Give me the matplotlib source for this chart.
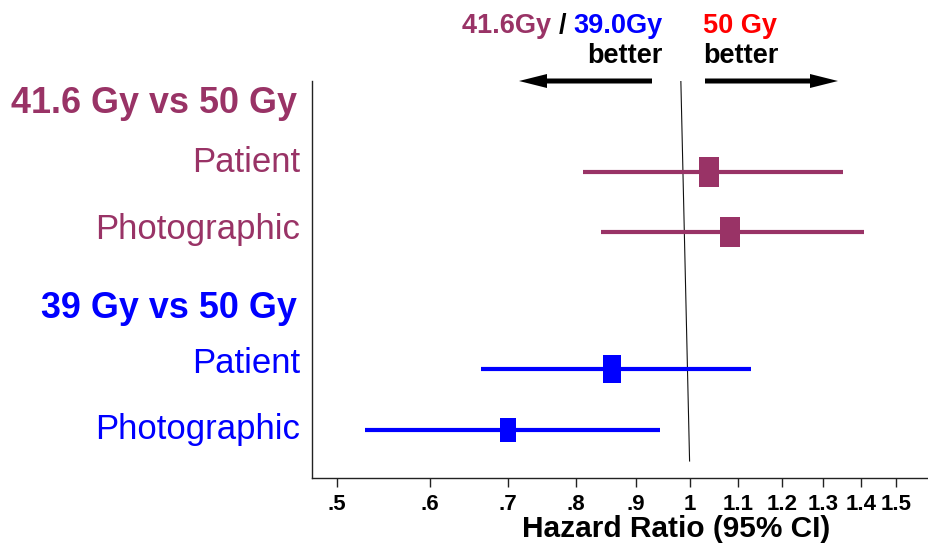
import matplotlib
matplotlib.use("Agg")
import matplotlib.pyplot as plt
from matplotlib.path import Path
from matplotlib.patches import FancyArrow
from matplotlib.transforms import IdentityTransform

plt.rcParams['font.family'] = ['Liberation Sans', 'DejaVu Sans']

# ---------------- data ----------------
groups = ["41.6 Gy vs 50 Gy", "39 Gy vs 50 Gy"]
row_labels = ["Patient", "Photographic", "Patient", "Photographic"]
row_group = [0, 0, 1, 1]
hr = [1.038, 1.082, 0.859, 0.700]
ci_low = [0.811, 0.840, 0.664, 0.528]
ci_high = [1.352, 1.409, 1.128, 0.944]
box_size = [20.9, 20.9, 20.2, 17.3]          # marker heights (pt)
tick_values = [0.5, 0.6, 0.7, 0.8, 0.9, 1.0, 1.1, 1.2, 1.3, 1.4, 1.5]
tick_labels = [".5", ".6", ".7", ".8", ".9", "1", "1.1", "1.2", "1.3", "1.4", "1.5"]

# ---------------- layout ----------------
group_colors = ["#993366", "#0000FF"]
row_y = [172, 232, 369, 430]        # vertical positions (axis units, top->bottom)
label_base = [172, 239, 373, 439]
group_base = [113, 318]
W, H = 929, 550

fig = plt.figure(figsize=(W / 100, H / 100), dpi=100)
ax_l, ax_r, ax_t, ax_b = 312, 928, 81, 478
ax = fig.add_axes([ax_l / W, 1 - ax_b / H, (ax_r - ax_l) / W, (ax_b - ax_t) / H])
ax.set_xscale("log")
ax.set_xlim(0.476, 1.598)
ax.set_ylim(ax_b, ax_t)

for s in ["top", "right"]:
    ax.spines[s].set_visible(False)
for s in ["left", "bottom"]:
    ax.spines[s].set_linewidth(1.0)
    ax.spines[s].set_color("#222222")

ax.set_yticks([])
ax.xaxis.set_minor_locator(matplotlib.ticker.NullLocator())
ax.set_xticks(tick_values)
ax.set_xticklabels(tick_labels, fontsize=16, fontweight="bold",
                   family=["Liberation Sans Narrow", "Liberation Sans"])
ax.tick_params(axis="x", length=6.5, width=1, pad=5, color="#222222")

ax.set_xlabel("Hazard Ratio (95% CI)", fontsize=21.5, fontweight="bold")
ax.xaxis.set_label_coords((676 - ax_l) / (ax_r - ax_l), (ax_b - 537) / (ax_b - ax_t))
ax.xaxis.label.set_verticalalignment("baseline")

# reference line (slightly slanted as in original)
ax.plot([0.983, 1.0], [ax_t, 461], color="#111111", lw=0.8, zorder=1)

# rectangle marker
rect = Path([(-0.33, -0.5), (0.33, -0.5), (0.33, 0.5), (-0.33, 0.5), (-0.33, -0.5)],
            [Path.MOVETO, Path.LINETO, Path.LINETO, Path.LINETO, Path.CLOSEPOLY])

for i in range(len(hr)):
    c = group_colors[row_group[i]]
    ax.plot([ci_low[i], ci_high[i]], [row_y[i], row_y[i]], color=c, lw=3.0,
            solid_capstyle="butt", zorder=2)
    ax.plot([hr[i]], [row_y[i]], marker=rect, markersize=box_size[i], color=c,
            markeredgewidth=0, linestyle="none", zorder=3)
    ax.text(-0.0195, label_base[i], row_labels[i], transform=ax.get_yaxis_transform(),
            ha="right", va="baseline", fontsize=25, color=c, clip_on=False)

for g, name in enumerate(groups):
    ax.text(-0.024, group_base[g], name, transform=ax.get_yaxis_transform(),
            ha="right", va="baseline", fontsize=25.8, fontweight="bold",
            color=group_colors[g], clip_on=False)

# top annotations
def fx(x):
    return x / W

def fy(y):
    return 1 - y / H

t3 = fig.text(fx(663), fy(33), "39.0Gy", ha="right", va="baseline", fontsize=19.5,
              fontweight="bold", color=group_colors[1])
t2 = ax.annotate("/ ", xy=(0, 0), xycoords=t3, ha="right", va="bottom",
                 fontsize=19.5, fontweight="bold", color="black", annotation_clip=False)
t1 = ax.annotate("41.6Gy ", xy=(0, 0), xycoords=t2, ha="right", va="bottom",
                 fontsize=19.5, fontweight="bold", color=group_colors[0], annotation_clip=False)
fig.text(fx(663), fy(63), "better", ha="right", va="baseline", fontsize=19.5,
         fontweight="bold", color="black")
fig.text(fx(703), fy(33), "50 Gy", ha="left", va="baseline", fontsize=19.5,
         fontweight="bold", color="#FF0000")
fig.text(fx(703), fy(63), "better", ha="left", va="baseline", fontsize=19.5,
         fontweight="bold", color="black")

# arrows (display pixels)
fig.add_artist(FancyArrow(652, H - 81, -133, 0, width=5, head_width=14, head_length=28,
                          length_includes_head=True, transform=IdentityTransform(),
                          color="black", lw=0))
fig.add_artist(FancyArrow(705, H - 81, 133, 0, width=5, head_width=14, head_length=28,
                          length_includes_head=True, transform=IdentityTransform(),
                          color="black", lw=0))

fig.savefig("out.png", dpi=100)
